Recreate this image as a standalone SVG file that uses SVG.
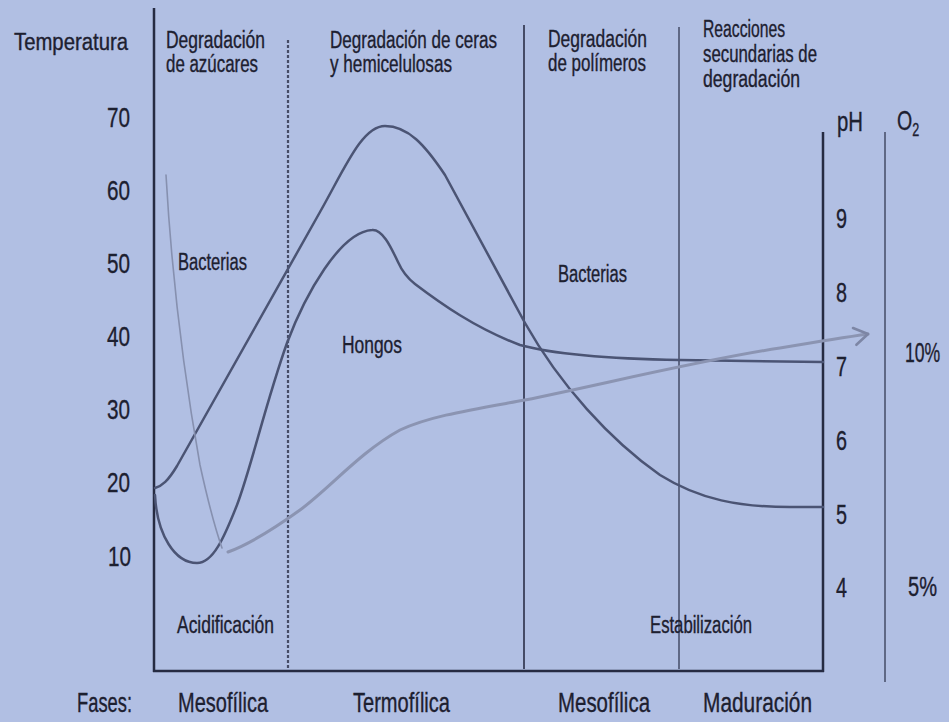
<svg xmlns="http://www.w3.org/2000/svg" width="949" height="722" viewBox="0 0 949 722">
<style>
.t{font-family:"Liberation Sans","DejaVu Sans",sans-serif;fill:#1d2030;stroke:#1d2030;stroke-width:0.35;}
.h{font-size:23px;}
.n{font-size:28px;}
.b{font-size:28px;}
.l{font-size:23px;}
.axis{stroke:#262b42;stroke-width:2.5;fill:none;}
.div{stroke:#454b66;fill:none;}
.cur{stroke:#4b5474;stroke-width:2.5;fill:none;stroke-linecap:round;stroke-linejoin:round;}
.thin{stroke:#8690af;stroke-width:1.6;fill:none;stroke-linecap:round;}
.o2{stroke:#8b94b2;stroke-width:3;fill:none;stroke-linecap:round;}
</style>
<defs>
<marker id="arr" viewBox="-17 -11 19 22" markerUnits="userSpaceOnUse" markerWidth="19" markerHeight="22" refX="0" refY="0" orient="auto">
<path d="M-14,-8 L0,0 L-13,9" fill="none" stroke="#7d86a5" stroke-width="2.6" stroke-linecap="round" stroke-linejoin="round"/>
</marker>
</defs>
<rect width="949" height="722" fill="#b1bfe3"/>

<g id="dividers">
<line class="div" x1="288" y1="40" x2="288" y2="669" stroke-width="2.2" stroke-dasharray="3 2"/>
<line class="div" x1="524" y1="25" x2="524" y2="669" stroke-width="2"/>
<line class="div" x1="679" y1="27" x2="679" y2="669" stroke-width="1.5" stroke="#5a6182"/>
<line class="div" x1="885" y1="132" x2="885" y2="682" stroke-width="1.5" stroke="#5f6687"/>
</g>

<g id="axes">
<line class="axis" x1="154" y1="8" x2="154" y2="672"/>
<line class="axis" x1="153" y1="671" x2="824" y2="671"/>
<line class="axis" x1="823" y1="132" x2="823" y2="672"/>
</g>

<g id="curves">
<path id="temp" class="cur" d="M155,488 C162,486 168,481 177,466 L320,212 C345,168 362,126 385,126 C408,126 425,145 445,175 L525,323 C560,385 610,440 660,475 C700,500 740,507 790,507 L823,507"/>
<path id="hongos" class="cur" d="M155,495 C157,535 175,563 197,563 C213,563 224,538 237,505 C252,465 265,405 287,343 C305,295 340,232 372,230 C382,229 390,245 398,262 C402,271 406,277 415,284 C440,303 475,328 520,345 C560,356 620,359 680,360 L823,362"/>
<path id="bacterias" class="thin" d="M166,175 C172,280 183,370 200,465 C207,497 214,525 222,548"/>
<path id="oxigeno" class="o2" marker-end="url(#arr)" d="M228,552 C250,544 275,528 300,510 C330,488 360,452 400,430 C430,416 470,410 525,400 C600,385 700,360 780,348 C810,343 840,338 868,334"/>
</g>

<g id="headers">
<text class="t h" x="14" y="50" textLength="114" lengthAdjust="spacingAndGlyphs">Temperatura</text>
<text class="t h" x="166" y="48" textLength="99" lengthAdjust="spacingAndGlyphs">Degradación</text>
<text class="t h" x="166" y="72" textLength="92" lengthAdjust="spacingAndGlyphs">de azúcares</text>
<text class="t h" x="330" y="48" textLength="167" lengthAdjust="spacingAndGlyphs">Degradación de ceras</text>
<text class="t h" x="330" y="72" textLength="122" lengthAdjust="spacingAndGlyphs">y hemicelulosas</text>
<text class="t h" x="548" y="47" textLength="99" lengthAdjust="spacingAndGlyphs">Degradación</text>
<text class="t h" x="548" y="71" textLength="98" lengthAdjust="spacingAndGlyphs">de polímeros</text>
<text class="t h" x="703" y="37" textLength="82" lengthAdjust="spacingAndGlyphs">Reacciones</text>
<text class="t h" x="703" y="62" textLength="114" lengthAdjust="spacingAndGlyphs">secundarias de</text>
<text class="t h" x="703" y="87" textLength="97" lengthAdjust="spacingAndGlyphs">degradación</text>
<text class="t n" x="837" y="131" textLength="26" lengthAdjust="spacingAndGlyphs">pH</text>
<text class="t n" transform="translate(897,130) scale(0.7,1)">O<tspan font-size="18" dy="6">2</tspan></text>
</g>

<g id="temp-scale">
<text class="t n" x="107" y="127" textLength="23" lengthAdjust="spacingAndGlyphs">70</text>
<text class="t n" x="107" y="200" textLength="23" lengthAdjust="spacingAndGlyphs">60</text>
<text class="t n" x="107" y="273" textLength="23" lengthAdjust="spacingAndGlyphs">50</text>
<text class="t n" x="107" y="346" textLength="23" lengthAdjust="spacingAndGlyphs">40</text>
<text class="t n" x="107" y="419" textLength="23" lengthAdjust="spacingAndGlyphs">30</text>
<text class="t n" x="107" y="492" textLength="23" lengthAdjust="spacingAndGlyphs">20</text>
<text class="t n" x="108" y="566" textLength="23" lengthAdjust="spacingAndGlyphs">10</text>
</g>

<g id="ph-scale">
<text class="t n" x="836" y="228" textLength="11" lengthAdjust="spacingAndGlyphs">9</text>
<text class="t n" x="836" y="302" textLength="11" lengthAdjust="spacingAndGlyphs">8</text>
<text class="t n" x="836" y="376" textLength="11" lengthAdjust="spacingAndGlyphs">7</text>
<text class="t n" x="836" y="450" textLength="11" lengthAdjust="spacingAndGlyphs">6</text>
<text class="t n" x="836" y="524" textLength="11" lengthAdjust="spacingAndGlyphs">5</text>
<text class="t n" x="836" y="597" textLength="11" lengthAdjust="spacingAndGlyphs">4</text>
<text class="t n" transform="translate(905,362) scale(0.63,1)">10%</text>
<text class="t n" x="908" y="596" textLength="29" lengthAdjust="spacingAndGlyphs">5%</text>
</g>

<g id="labels">
<text class="t h" x="178" y="270" textLength="69" lengthAdjust="spacingAndGlyphs">Bacterias</text>
<text class="t h" x="342" y="353" textLength="60" lengthAdjust="spacingAndGlyphs">Hongos</text>
<text class="t h" x="558" y="282" textLength="69" lengthAdjust="spacingAndGlyphs">Bacterias</text>
<text class="t l" x="177" y="633" textLength="97" lengthAdjust="spacingAndGlyphs">Acidificación</text>
<text class="t l" x="650" y="633" textLength="102" lengthAdjust="spacingAndGlyphs">Estabilización</text>
</g>

<g id="phases">
<text class="t b" x="77" y="712" textLength="55" lengthAdjust="spacingAndGlyphs">Fases:</text>
<text class="t b" x="178" y="712" textLength="90" lengthAdjust="spacingAndGlyphs">Mesofílica</text>
<text class="t b" x="353" y="712" textLength="97" lengthAdjust="spacingAndGlyphs">Termofílica</text>
<text class="t b" x="558" y="712" textLength="92" lengthAdjust="spacingAndGlyphs">Mesofílica</text>
<text class="t b" x="703" y="712" textLength="109" lengthAdjust="spacingAndGlyphs">Maduración</text>
</g>
</svg>
